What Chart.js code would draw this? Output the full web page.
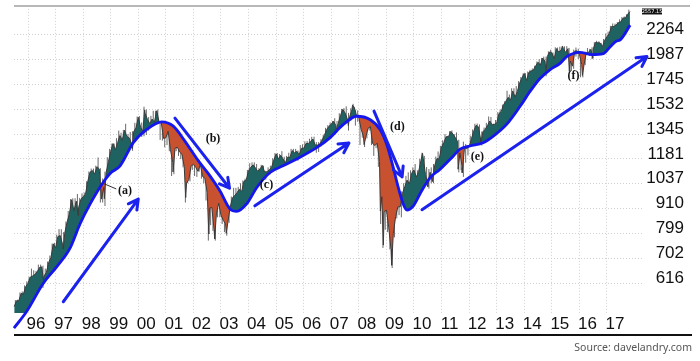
<!DOCTYPE html>
<html>
<head>
<meta charset="utf-8">
<script src="https://cdn.jsdelivr.net/npm/chart.js@4.4.0/dist/chart.umd.min.js"></script>
<style>
  html, body { margin: 0; padding: 0; background: #fff; }
</style>
</head>
<body>
<canvas id="spxChart" width="700" height="361"></canvas>
<script>
// month-end closes, first value is the end of June 1995
const firstMonth = 1995.5;
const monthlyClose = [
  545, 562, 562, 584, 582, 605, 616,
  636, 640, 645, 654, 669, 671, 640, 652, 687, 705, 757, 741,
  786, 791, 757, 801, 848, 885, 954, 899, 947, 915, 955, 970,
  980, 1049, 1102, 1112, 1091, 1134, 1121, 957, 1017, 1099, 1164, 1229,
  1280, 1238, 1286, 1335, 1302, 1373, 1329, 1320, 1283, 1363, 1389, 1469,
  1394, 1366, 1499, 1452, 1421, 1455, 1431, 1518, 1437, 1429, 1315, 1320,
  1366, 1240, 1160, 1249, 1256, 1224, 1211, 1134, 1041, 1060, 1139, 1148,
  1130, 1107, 1147, 1077, 1067, 990, 912, 916, 815, 886, 936, 880,
  856, 841, 848, 917, 964, 975, 990, 1008, 996, 1051, 1058, 1112,
  1131, 1145, 1126, 1107, 1121, 1141, 1102, 1104, 1115, 1130, 1174, 1212,
  1181, 1204, 1181, 1157, 1192, 1191, 1234, 1220, 1229, 1207, 1249, 1248,
  1280, 1281, 1295, 1311, 1270, 1270, 1277, 1304, 1336, 1378, 1401, 1418,
  1438, 1407, 1421, 1482, 1531, 1503, 1455, 1474, 1527, 1549, 1481, 1468,
  1379, 1331, 1323, 1386, 1400, 1280, 1267, 1283, 1165, 969, 896, 903,
  826, 735, 798, 873, 919, 919, 987, 1021, 1057, 1036, 1096, 1115,
  1074, 1104, 1169, 1187, 1089, 1031, 1102, 1049, 1141, 1183, 1181, 1258,
  1286, 1327, 1326, 1364, 1345, 1321, 1292, 1219, 1131, 1253, 1247, 1258,
  1312, 1366, 1408, 1398, 1310, 1362, 1379, 1407, 1441, 1412, 1416, 1426,
  1498, 1515, 1569, 1598, 1631, 1606, 1686, 1633, 1682, 1757, 1806, 1848,
  1783, 1859, 1872, 1884, 1924, 1960, 1931, 2003, 1972, 2018, 2068, 2059,
  1995, 2105, 2068, 2086, 2107, 2063, 2104, 1972, 1920, 2079, 2080, 2044,
  1940, 1932, 2060, 2065, 2097, 2099, 2174, 2171, 2168, 2126, 2199, 2239,
  2279, 2364, 2363, 2384, 2412, 2423, 2470, 2472, 2519, 2557
];

// monthly low / high (the grey price bars)
const monthlyLow = [
  532, 544, 554, 560, 576, 580, 601,
  597, 633, 627, 624, 630, 661, 601, 637, 649, 685, 703, 716,
  737, 773, 756, 733, 794, 840, 882, 896, 895, 855, 900, 928,
  912, 980, 1033, 1075, 1090, 1075, 1112, 940, 940, 923, 1100, 1132,
  1205, 1225, 1230, 1275, 1280, 1280, 1325, 1270, 1268, 1233, 1338, 1385,
  1350, 1325, 1330, 1340, 1370, 1420, 1415, 1430, 1430, 1305, 1300, 1255,
  1270, 1230, 1080, 1090, 1230, 1200, 1180, 1130, 940, 1040, 1050, 1115,
  1080, 1075, 1105, 1065, 1040, 950, 770, 835, 810, 770, 870, 870,
  840, 805, 790, 845, 900, 960, 970, 960, 990, 1015, 1030, 1060,
  1100, 1125, 1085, 1105, 1075, 1115, 1080, 1060, 1100, 1090, 1130, 1165,
  1160, 1180, 1175, 1140, 1145, 1185, 1190, 1200, 1200, 1170, 1200, 1240,
  1245, 1250, 1275, 1280, 1245, 1220, 1225, 1260, 1290, 1330, 1360, 1385,
  1400, 1395, 1364, 1416, 1480, 1485, 1450, 1370, 1440, 1490, 1406, 1435,
  1270, 1320, 1257, 1315, 1370, 1270, 1200, 1250, 1133, 840, 741, 815,
  805, 735, 667, 783, 865, 880, 870, 980, 990, 1020, 1030, 1085,
  1071, 1045, 1102, 1160, 1040, 1030, 1011, 1040, 1040, 1131, 1173, 1185,
  1257, 1281, 1250, 1295, 1319, 1258, 1282, 1101, 1114, 1075, 1158, 1203,
  1259, 1312, 1354, 1358, 1292, 1267, 1325, 1372, 1396, 1403, 1343, 1398,
  1426, 1485, 1501, 1536, 1581, 1560, 1604, 1627, 1633, 1646, 1746, 1768,
  1770, 1737, 1834, 1814, 1862, 1915, 1916, 1904, 1964, 1821, 2001, 1973,
  1988, 1981, 2039, 2048, 2067, 2056, 2044, 1867, 1872, 1893, 2019, 1993,
  1812, 1810, 1931, 2039, 2025, 1991, 2074, 2147, 2119, 2114, 2084, 2188,
  2233, 2271, 2322, 2328, 2352, 2405, 2407, 2417, 2446, 2520
];
const monthlyHigh = [
  551, 564, 565, 587, 590, 609, 622,
  637, 665, 659, 657, 679, 679, 675, 665, 690, 712, 758, 761,
  794, 818, 817, 805, 851, 899, 957, 961, 961, 983, 963, 986,
  990, 1051, 1106, 1123, 1123, 1140, 1190, 1125, 1066, 1105, 1192, 1245,
  1280, 1280, 1317, 1370, 1355, 1375, 1420, 1345, 1360, 1365, 1427, 1475,
  1478, 1430, 1553, 1530, 1470, 1480, 1520, 1520, 1530, 1440, 1435, 1390,
  1380, 1375, 1275, 1270, 1315, 1290, 1235, 1220, 1135, 1110, 1165, 1175,
  1176, 1130, 1175, 1150, 1105, 1075, 995, 960, 930, 910, 955, 955,
  935, 865, 900, 925, 970, 1015, 1015, 1020, 1040, 1055, 1065, 1115,
  1155, 1160, 1160, 1150, 1125, 1145, 1140, 1110, 1130, 1140, 1185, 1218,
  1218, 1212, 1230, 1195, 1200, 1220, 1245, 1245, 1245, 1235, 1270, 1275,
  1295, 1297, 1313, 1326, 1327, 1290, 1290, 1310, 1340, 1390, 1410, 1430,
  1441, 1462, 1440, 1500, 1535, 1541, 1556, 1503, 1540, 1576, 1525, 1523,
  1471, 1397, 1370, 1397, 1441, 1405, 1290, 1313, 1300, 1167, 1007, 919,
  943, 876, 833, 889, 930, 957, 997, 1040, 1081, 1101, 1113, 1130,
  1150, 1113, 1181, 1220, 1200, 1132, 1120, 1130, 1150, 1196, 1228, 1265,
  1303, 1345, 1333, 1366, 1371, 1346, 1357, 1306, 1231, 1293, 1277, 1270,
  1334, 1378, 1420, 1422, 1415, 1364, 1392, 1427, 1475, 1471, 1421, 1448,
  1510, 1530, 1570, 1598, 1688, 1655, 1710, 1710, 1730, 1775, 1814, 1849,
  1851, 1867, 1884, 1897, 1925, 1968, 1991, 2005, 2019, 2018, 2075, 2093,
  2064, 2120, 2117, 2126, 2135, 2130, 2132, 2113, 2021, 2094, 2117, 2104,
  2038, 1962, 2073, 2111, 2103, 2120, 2178, 2193, 2187, 2169, 2214, 2278,
  2301, 2372, 2401, 2399, 2419, 2454, 2484, 2491, 2520, 2582
];

// intramonth extremes (the deeper spikes)
const spikeDates  = [1996.56, 1997.28, 1997.82, 1998.77, 1999.79, 2000.23, 2000.67, 2001.26, 2001.72,
                     2002.56, 2002.77, 2003.19, 2007.18, 2007.62, 2007.77, 2008.19, 2008.78, 2008.89,
                     2009.19, 2010.31, 2010.50, 2011.60, 2011.75, 2012.42, 2014.79, 2015.39, 2015.65,
                     2016.11, 2016.49];
const spikeValues = [626, 737, 877, 959, 1247, 1527, 1520, 1103, 965,
                     797, 777, 800, 1374, 1406, 1565, 1273, 899, 752,
                     677, 1217, 1022, 1119, 1099, 1278, 1862, 2131, 1867,
                     1829, 2000];

// moving average (blue line)
const maDates  = [1995.49, 1995.95, 1996.55, 1997.04, 1997.52, 1997.89, 1998.25, 1998.67, 1998.97, 1999.34,
                  1999.82, 2000.31, 2000.85, 2001.27, 2001.69, 2002.18, 2002.60, 2002.96, 2003.33, 2003.57,
                  2003.93, 2004.30, 2004.78, 2005.25, 2005.75, 2006.47, 2006.95, 2007.44, 2007.92, 2008.40,
                  2008.77, 2009.01, 2009.25, 2009.43, 2009.61, 2009.74, 2009.98, 2010.28, 2010.58, 2010.94,
                  2011.43, 2011.67, 2012.03, 2012.51, 2012.88, 2013.36, 2013.85, 2014.21, 2014.57, 2014.93,
                  2015.30, 2015.54, 2016.02, 2016.45, 2016.87, 2017.11, 2017.35, 2017.47, 2017.84];
const maValues = [487, 531, 615, 671, 739, 841, 932, 1032, 1093, 1139,
                  1286, 1378, 1434, 1402, 1297, 1169, 1081, 1000, 908, 897,
                  933, 1017, 1100, 1139, 1181, 1253, 1319, 1415, 1477, 1452,
                  1378, 1275, 1128, 1017, 933, 904, 924, 1000, 1070, 1118,
                  1200, 1243, 1264, 1286, 1331, 1415, 1556, 1682, 1800, 1884,
                  1949, 2018, 2064, 2040, 2050, 2123, 2191, 2202, 2380];

const yearTicks  = [1996, 1997, 1998, 1999, 2000, 2001, 2002, 2003, 2004, 2005, 2006,
                    2007, 2008, 2009, 2010, 2011, 2012, 2013, 2014, 2015, 2016, 2017];
const yearLabels = ['96', '97', '98', '99', '00', '01', '02', '03', '04', '05', '06',
                    '07', '08', '09', '10', '11', '12', '13', '14', '15', '16', '17'];
const priceTicks = [616, 702, 799, 910, 1037, 1181, 1345, 1532, 1745, 1987, 2264];
const lastPriceLabel = '2557.15';

// arrows: [fromDate, fromValue, toDate, toValue]
const arrows = [
  [1997.28, 559, 2000.00, 957],
  [2001.33, 1463, 2003.31, 1013],
  [2004.23, 924, 2007.64, 1284],
  [2008.55, 1517, 2009.57, 1075],
  [2010.29, 905, 2018.45, 2019]
];
const noteText   = ['(a)', '(b)', '(c)', '(d)', '(e)', '(f)'];
const noteDates  = [1999.52, 2002.71, 2004.65, 2009.40, 2012.30, 2015.79];
const noteValues = [997, 1311, 1032, 1399, 1193, 1820];

// build the series
const pricePoints = monthlyClose.map((v, i) => ({ x: firstMonth + i / 12, y: v }))
  .concat(spikeDates.map((d, i) => ({ x: d, y: spikeValues[i] })))
  .sort((a, b) => a.x - b.x);
// low -> high pairs; only the vertical strokes are shown
const rangePoints = [];
monthlyLow.forEach((lo, i) => {
  const t = firstMonth + i / 12 - 1 / 24;
  rangePoints.push({ x: t, y: lo }, { x: t, y: monthlyHigh[i] });
});
const maPoints = maDates.map((d, i) => ({ x: d, y: maValues[i] }));

const labelFamily = "'Liberation Sans', Arial, sans-serif";

const drawArrow = (ctx, x1, y1, x2, y2) => {
  const ang = Math.atan2(y2 - y1, x2 - x1);
  const head = 11;
  ctx.beginPath();
  ctx.moveTo(x1, y1);
  ctx.lineTo(x2, y2);
  ctx.moveTo(x2 - head * Math.cos(ang - 0.5), y2 - head * Math.sin(ang - 0.5));
  ctx.lineTo(x2, y2);
  ctx.lineTo(x2 - head * Math.cos(ang + 0.5), y2 - head * Math.sin(ang + 0.5));
  ctx.stroke();
};

const decorations = {
  id: 'decorations',
  afterDraw(chart) {
    const { ctx, chartArea, scales: { x, y } } = chart;
    ctx.save();
    // top rule
    ctx.strokeStyle = '#a0a0a0';
    ctx.lineWidth = 1.5;
    ctx.beginPath();
    ctx.moveTo(chartArea.left, 6);
    ctx.lineTo(690, 6);
    ctx.stroke();
    // bottom axis line, under the year labels
    ctx.strokeStyle = '#111';
    ctx.lineWidth = 2;
    ctx.beginPath();
    ctx.moveTo(chartArea.left, 335);
    ctx.lineTo(692, 335);
    ctx.stroke();

    // arrows
    ctx.strokeStyle = '#1b22ee';
    ctx.lineWidth = 3;
    ctx.lineCap = 'round';
    ctx.lineJoin = 'round';
    arrows.forEach(a => {
      drawArrow(ctx, x.getPixelForValue(a[0]), y.getPixelForValue(a[1]),
                     x.getPixelForValue(a[2]), y.getPixelForValue(a[3]));
    });

    // leader line for (a)
    ctx.strokeStyle = '#333';
    ctx.lineWidth = 1;
    ctx.beginPath();
    ctx.moveTo(x.getPixelForValue(1998.76), y.getPixelForValue(1037));
    ctx.lineTo(x.getPixelForValue(1999.19), y.getPixelForValue(1010));
    ctx.stroke();

    // notes
    ctx.fillStyle = '#111';
    ctx.font = "bold 12px 'Liberation Serif', serif";
    ctx.textAlign = 'center';
    ctx.textBaseline = 'middle';
    noteText.forEach((t, i) => {
      ctx.fillText(t, x.getPixelForValue(noteDates[i]), y.getPixelForValue(noteValues[i]));
    });

    // last price tag
    const last = pricePoints[pricePoints.length - 1];
    const ty = y.getPixelForValue(last.y);
    ctx.fillStyle = '#111';
    ctx.fillRect(chartArea.right - 2, ty - 3, 20, 6);
    ctx.fillStyle = '#fff';
    ctx.font = "5px 'DejaVu Sans', sans-serif";
    ctx.fillText(lastPriceLabel, chartArea.right + 8, ty);

    // source
    ctx.fillStyle = '#555';
    ctx.font = "10.5px 'Noto Sans', sans-serif";
    ctx.textAlign = 'right';
    ctx.fillText('Source: davelandry.com', 692, 348);
    ctx.restore();
  }
};

new Chart(document.getElementById('spxChart'), {
  type: 'line',
  data: {
    datasets: [
      {
        label: 'S&P 500',
        data: pricePoints,
        borderColor: '#3a3a3a',
        borderWidth: 1,
        pointRadius: 0,
        tension: 0,
        clip: false,
        fill: { target: 1, above: 'rgb(30,98,98)', below: 'rgb(200,82,48)' },
        order: 1
      },
      {
        label: 'Moving average',
        data: maPoints,
        borderColor: '#1616ee',
        borderWidth: 2.8,
        pointRadius: 0,
        cubicInterpolationMode: 'monotone',
        clip: false,
        fill: false,
        order: 0
      },
      {
        label: 'Range',
        data: rangePoints,
        borderColor: 'rgba(55,55,55,0.75)',
        borderWidth: 1,
        pointRadius: 0,
        tension: 0,
        fill: false,
        segment: {
          borderColor: (c) => (c.p0DataIndex % 2 === 0 ? 'rgba(55,55,55,0.75)' : 'rgba(0,0,0,0)')
        },
        order: 2
      }
    ]
  },
  options: {
    responsive: false,
    animation: false,
    devicePixelRatio: 1,
    layout: { padding: { left: 14, top: 7, right: 16, bottom: 0 } },
    plugins: {
      legend: { display: false },
      tooltip: { enabled: false }
    },
    scales: {
      x: {
        type: 'linear',
        min: 1995.492,
        max: 2018.343,
        afterBuildTicks: (s) => { s.ticks = yearTicks.map(v => ({ value: v })); },
        afterFit: (s) => { s.height = 48; },
        grid: { color: '#d0d0d0', drawTicks: false },
        border: { display: false, dash: [1, 2] },
        ticks: {
          autoSkip: false,
          maxRotation: 0,
          padding: 1,
          labelOffset: 8,
          color: '#111',
          font: { family: labelFamily, size: 17 },
          callback: (v) => yearLabels[yearTicks.indexOf(v)]
        }
      },
      y: {
        type: 'logarithmic',
        position: 'right',
        min: 527,
        max: 2593,
        afterBuildTicks: (s) => { s.ticks = priceTicks.map(v => ({ value: v })); },
        afterFit: (s) => { s.width = 40; },
        grid: { color: '#d0d0d0', drawTicks: false },
        border: { display: false, dash: [1, 2] },
        ticks: {
          autoSkip: false,
          crossAlign: 'far',
          padding: 2,
          labelOffset: -5,
          color: '#111',
          font: { family: labelFamily, size: 17, lineHeight: 0.8 },
          callback: (v) => String(v)
        }
      }
    }
  },
  plugins: [decorations]
});
</script>
</body>
</html>
